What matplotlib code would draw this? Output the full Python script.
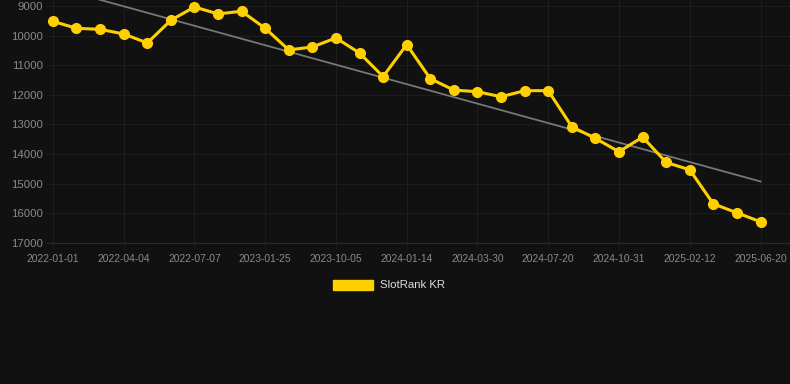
import numpy as np
import matplotlib
matplotlib.use("Agg")
import matplotlib.pyplot as plt

plt.rcParams['font.family'] = ['Liberation Sans', 'DejaVu Sans']

# data (rank, lower is better -> inverted axis)
dates = ["2022-01-01", "", "", "2022-04-04", "", "", "2022-07-07", "", "",
         "2023-01-25", "", "", "2023-10-05", "", "", "2024-01-14", "", "",
         "2024-03-30", "", "", "2024-07-20", "", "", "2024-10-31", "", "",
         "2025-02-12", "", "", "2025-06-20"]
ranks = [9520, 9755, 9790, 9945, 10250, 9485, 9035, 9270, 9180, 9755,
         10485, 10385, 10080, 10590, 11385, 10305, 11455, 11840, 11895, 12065,
         11860, 11860, 13075, 13470, 13920, 13425, 14280, 14530, 15680, 15980,
         16285]
yticks = [9000, 10000, 11000, 12000, 13000, 14000, 15000, 16000, 17000]

bg = "#111111"
gold = "#FFD000"

fig = plt.figure(figsize=(7.9, 3.84), dpi=100, facecolor=bg)
ax = fig.add_axes([47 / 790, 1 - 243 / 384, 1 - 47 / 790, 243 / 384])
ax.set_facecolor(bg)

x = np.arange(len(ranks))
# trend line (least squares)
k, b = np.polyfit(x, ranks, 1)
ax.plot(x, k * x + b, color="#777777", lw=1.3, zorder=2)

ax.plot(x, ranks, color=gold, lw=2.2, marker="o", markersize=7,
        zorder=3, label="SlotRank KR")

ax.set_xlim(-0.25, 31.25)
ax.set_ylim(17000, 8800)
ax.set_yticks(yticks)
ax.set_yticklabels([str(v) for v in yticks])
tick_idx = [i for i, d in enumerate(dates) if d]
ax.set_xticks(tick_idx)
ax.set_xticklabels([dates[i] for i in tick_idx])

ax.grid(True, color="#1d1d1d", lw=0.8)
ax.set_axisbelow(True)
for s in ["top", "right", "left"]:
    ax.spines[s].set_visible(False)
ax.spines["bottom"].set_color("#2a2a2a")
ax.tick_params(axis="y", colors="#8a8a8a", labelsize=8.2, length=0, pad=3)
ax.tick_params(axis="x", colors="#8a8a8a", labelsize=7.4, length=4,
               color="#1d1d1d", pad=4)

leg = fig.legend(handles=[plt.Rectangle((0, 0), 1, 1, color=gold)],
                 labels=["SlotRank KR"], loc="center",
                 bbox_to_anchor=(389 / 790, 1 - 285 / 384), frameon=False,
                 handlelength=3.5, handleheight=1.0, handletextpad=0.6,
                 fontsize=8.2)
for t in leg.get_texts():
    t.set_color("#dddddd")

fig.savefig("out.png", dpi=100, facecolor=bg)
